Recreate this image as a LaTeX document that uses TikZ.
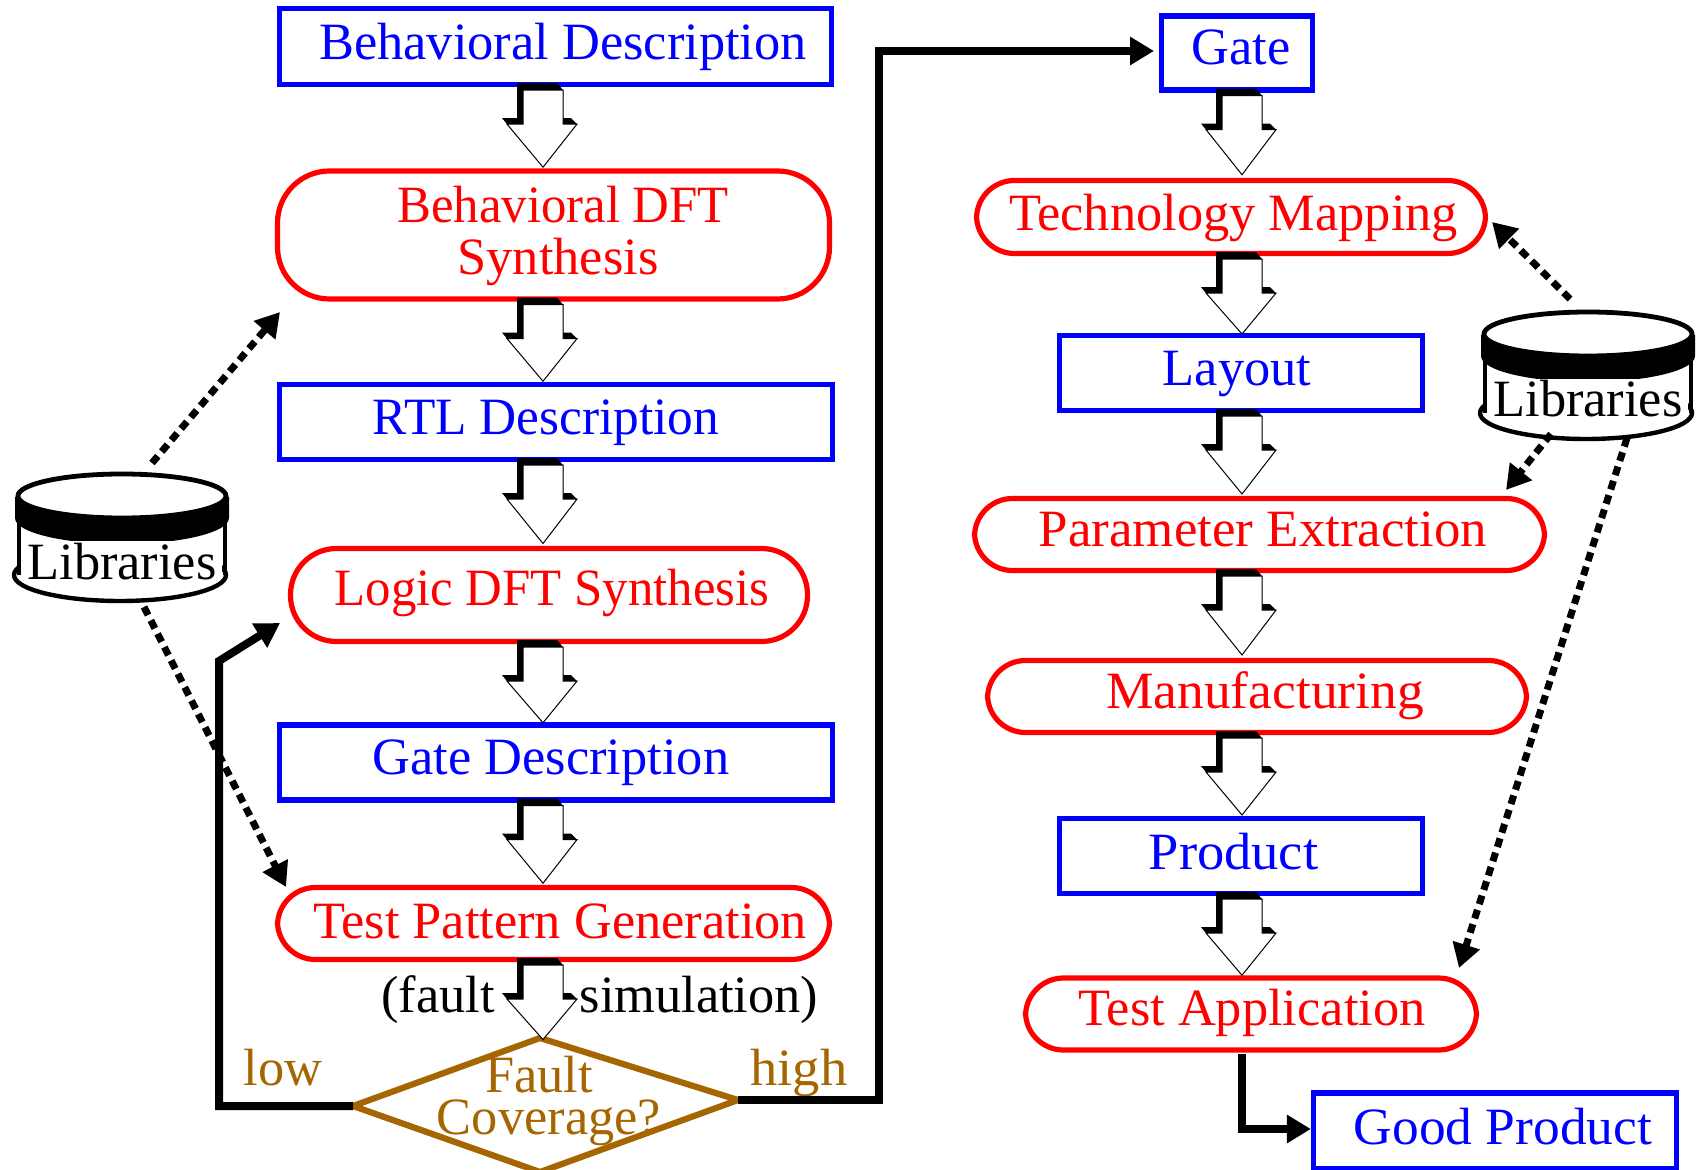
\documentclass[tikz,border=0pt]{standalone}
\usepackage{fontspec}
\usepackage{graphicx}
\setmainfont{Liberation Serif}
\usetikzlibrary{calc,arrows.meta}
\definecolor{brownish}{RGB}{165,101,0}
\newdimen\pxu \pxu=0.5pt
% text placed by centre offset (dx) and baseline offset (dy) from the node centre, in px
\newcommand{\tx}[3]{\makebox[0pt][c]{\raisebox{#2\pxu}[0pt][0pt]{\hspace*{\dimexpr 2\dimexpr #1\pxu\relax\relax}#3}}}
\newcommand{\sx}[2]{\scalebox{#1}[1]{#2}}
\tikzset{
  x=0.5pt,y=-0.5pt,
  every node/.style={font=\fontsize{26.2}{30}\selectfont,inner sep=0pt},
  sz/.style 2 args={minimum width=#1*0.5pt+3pt,minimum height=#2*0.5pt+3pt},
  datarect/.style={draw=blue,line width=2.6pt,text=blue,rectangle},
  procbox/.style={draw=red,line width=2.6pt,text=red,rectangle,rounded corners=19pt},
  tallbox/.style={procbox,rounded corners=26pt},
  logicbox/.style={procbox,rounded corners=23pt},
  thickline/.style={line width=4pt,miter limit=10,-{Triangle[length=12pt,width=13.5pt]}},
  dashline/.style={line width=3.5pt,dash pattern=on 4.5pt off 3pt,-{Triangle[length=12pt,width=13.5pt]}},
}
\newcommand{\cyl}[3]{% name, dx, dy
  \begin{scope}[shift={(#2,#3)}]
    \draw[line width=2.2pt,fill=white] (120,575) ellipse [x radius=106,y radius=26];
    \fill[white] (20,530) rectangle (222,575);
    \draw[line width=2.4pt] (19,520) -- (19,575) (225,520) -- (225,575);
    \fill[black] (15,497) -- (15,518) arc[start angle=180,end angle=0,x radius=107,y radius=26] -- (229,497) -- cycle;
    \draw[line width=2.4pt,fill=white] (122,496) ellipse [x radius=104,y radius=22];
    \node[fill=white,anchor=base,inner xsep=1pt,inner ysep=1pt] (#1) at (122,579) {Libraries};
  \end{scope}
}
\newcommand{\flow}[3]{% from, to, x
  \path (#1.south -| #3,0) coordinate (top) (#2.north -| #3,0) coordinate (tip);
  \fill[black] ($(top)+(-26,-4)$) -- ($(top)+(14,-4)$) -- ($(top)+(20,3)$) -- ($(top)+(20,31)$) -- ($(top)+(28,31)$) -- ($(top)+(34,37)$) -- ($(top)+(-36,37)$) -- ($(top)+(-41,31)$) -- ($(top)+(-26,31)$) -- cycle;
  \draw[line width=0.5pt,fill=white,line join=miter] ($(top)+(-20,3)$) -- ($(top)+(20,3)$) -- ($(top)+(20,37)$) -- ($(top)+(34,37)$) -- ($($(top)!0.5!(tip)$)+(0,39.5)$) -- ($(top)+(-36,37)$) -- ($(top)+(-20,37)$) -- cycle;
}
\begin{document}
\begin{tikzpicture}
\useasboundingbox (0,0) rectangle (1701,1170);
% left column
\node[datarect,sz={546}{70}] (bd) at (555.5,46.5) {\tx{7.5}{-13.5}{Behavioral Description}};
\node[tallbox,sz={546}{122}] (bdft) at (553.5,235) {\tx{9.5}{12}{\sx{0.97}{Behavioral DFT}}\tx{4.5}{-39.5}{Synthesis}};
\node[datarect,sz={547}{69}] (rtl) at (556,422) {\tx{-10}{-13}{\sx{0.98}{RTL Description}}};
\node[logicbox,sz={511}{87}] (logic) at (549,595) {\tx{3}{-10.5}{\sx{0.97}{Logic DFT Synthesis}}};
\node[datarect,sz={547}{69}] (gated) at (556,762.5) {\tx{-5}{-12}{Gate Description}};
\node[procbox,sz={546}{66}] (tpg) at (553.5,923.5) {\tx{6.5}{-14.5}{Test Pattern Generation}};
% decision
\coordinate (dw) at (353,1106);
\coordinate (dn) at (540,1038);
\coordinate (de) at (738,1100);
\coordinate (ds) at (540,1172);
\draw[draw=brownish,line width=3.1pt,line join=miter] (dw) -- (dn) -- (de) -- (ds) -- cycle;
\node[text=brownish] (cov) at (545,1100) {\tx{-6}{8}{Fault}\tx{4}{-34}{Coverage?}};
\node[text=brownish,anchor=base] (low) at (283,1085) {low};
\node[text=brownish,anchor=base] (high) at (799,1085) {\sx{1.04}{high}};
\node[anchor=base] (fa) at (438,1012) {(fault};
\node[anchor=base] (si) at (699,1012) {simulation)};
% right column
\node[datarect,sz={145}{68}] (gate) at (1237,53) {\tx{4}{-12}{Gate}};
\node[procbox,sz={503}{67}] (tech) at (1231,217) {\tx{2.5}{-14}{Technology Mapping}};
\node[datarect,sz={357}{69}] (layout) at (1241,373) {\tx{-4}{-13}{Layout}};
\node[procbox,sz={564}{66}] (param) at (1259.5,534.5) {\tx{3.5}{-11.5}{\sx{1.01}{Parameter Extraction}}};
\node[procbox,sz={533}{66}] (manuf) at (1257,696.5) {\tx{8}{-11.5}{\sx{1.02}{Manufacturing}}};
\node[datarect,sz={357}{69}] (product) at (1241,856) {\tx{-7.5}{-13}{\sx{1.04}{Product}}};
\node[procbox,sz={445}{66}] (testapp) at (1251,1014) {\tx{1}{-11.5}{Test Application}};
\node[datarect,sz={357}{70}] (good) at (1495,1131) {\tx{8}{-13}{\sx{1.02}{Good Product}}};
% hollow flow arrows
\foreach \a/\b/\c in {bd/bdft/543,bdft/rtl/543,rtl/logic/543,logic/gated/543,gated/tpg/543,
  gate/tech/1242,tech/layout/1242,layout/param/1242,param/manuf/1242,manuf/product/1242,product/testapp/1242}{
  \flow{\a}{\b}{\c}
}
\flow{tpg}{dn}{543}
% libraries
\cyl{libl}{0}{0}
\cyl{libr}{1466}{-162}
% solid connectors
\coordinate (lowa) at (219,1106);
\coordinate (lowb) at (219,661);
\coordinate (logt) at (280,623);
\draw[thickline] (dw) -- (lowa) -- (lowb) -- (logt);
\coordinate (higa) at (879,1100);
\coordinate (higb) at (879,51);
\coordinate (gatt) at (1154,51);
\draw[thickline] (de) -- (higa) -- (higb) -- (gatt);
\coordinate (gob) at (1242,1054);
\coordinate (goa) at (1242,1129);
\draw[thickline] (gob) -- (goa) -- (good.west |- goa);
% dashed connectors
\coordinate (l1s) at (152,463);
\coordinate (l1e) at (280,312);
\coordinate (l2s) at (144,607);
\coordinate (l2e) at (286,887);
\coordinate (r1s) at (1570,299);
\coordinate (r1e) at (1492,222);
\coordinate (r2s) at (1551,434);
\coordinate (r2e) at (1506,490);
\coordinate (r3s) at (1627,438);
\coordinate (r3e) at (1459,968);
\draw[dashline] (l1s) -- (l1e);
\draw[dashline] (l2s) -- (l2e);
\draw[dashline] (r1s) -- (r1e);
\draw[dashline] (r2s) -- (r2e);
\draw[dashline] (r3s) -- (r3e);
\end{tikzpicture}
\end{document}
